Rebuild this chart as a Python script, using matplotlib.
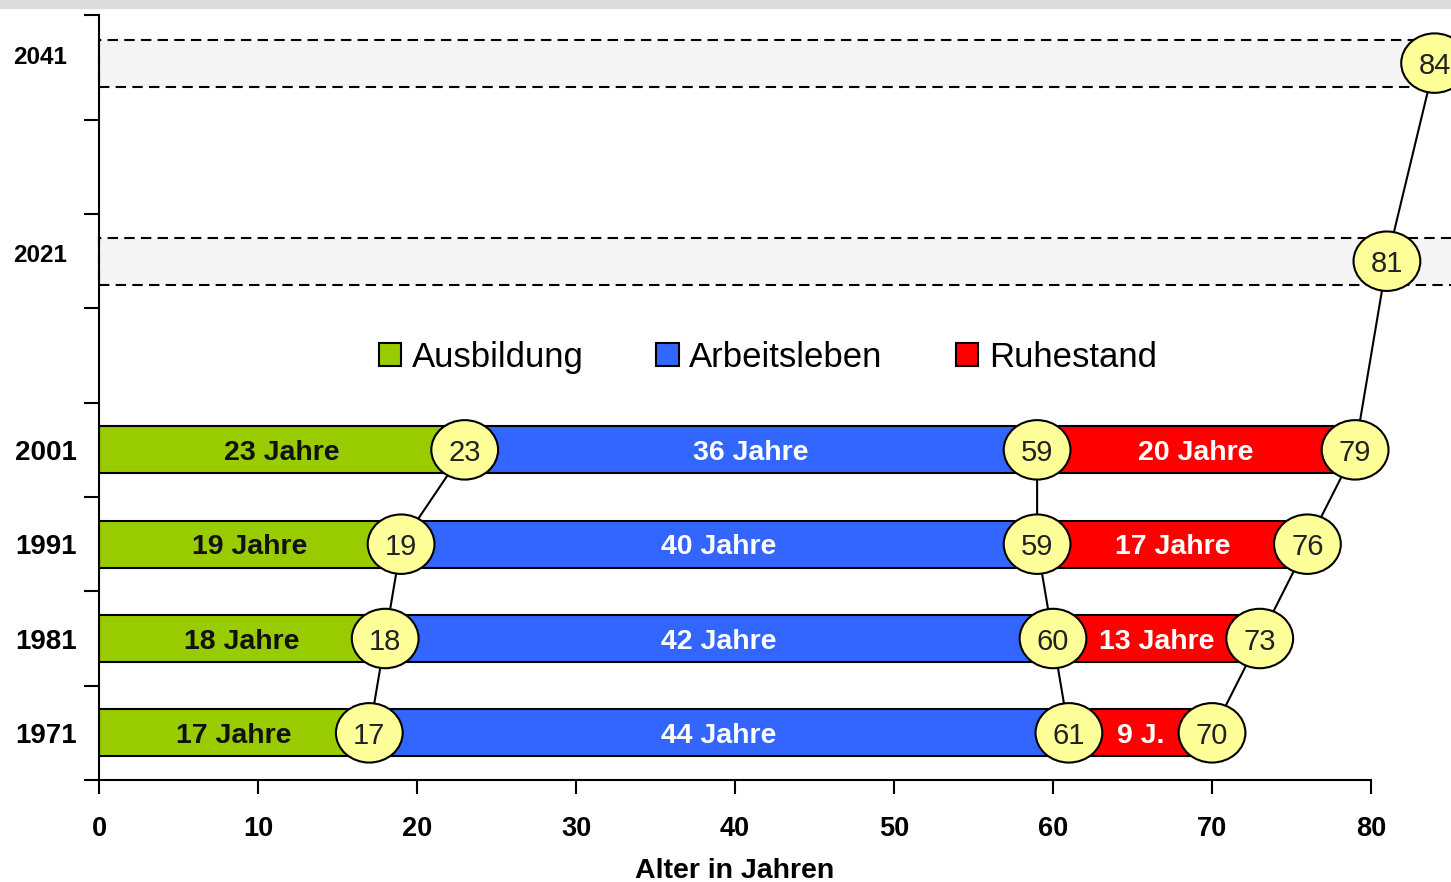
import matplotlib.pyplot as plt
import matplotlib.transforms as mtransforms
from matplotlib.patches import Rectangle, Ellipse, Patch

# data
years = ["1971", "1981", "1991", "2001"]
ausbildung = [17, 18, 19, 23]
arbeitsleben = [44, 42, 40, 36]
ruhestand = [9, 13, 17, 20]
future_years = ["2021", "2041"]
future_total = [81, 84]
series_names = ["Ausbildung", "Arbeitsleben", "Ruhestand"]
colors = ["#99CC00", "#3366FF", "#FF0000"]
xticks = [0, 10, 20, 30, 40, 50, 60, 70, 80]

plt.rcParams["font.family"] = ["Liberation Sans", "DejaVu Sans"]

fig = plt.figure(figsize=(14.51, 8.82), dpi=100)
fig.patches.append(Rectangle((0, 1 - 8 / 882), 1, 8 / 882, transform=fig.transFigure,
                             color="#dcdcdc", zorder=0))
ax = fig.add_axes([99 / 1451, 102 / 882, 1 - 99 / 1451, 765 / 882])

y_hist = [0, 1, 2, 3]
y_fut = [5, 7.1]

# bars
left = [0] * len(years)
for vals, c in zip([ausbildung, arbeitsleben, ruhestand], colors):
    ax.barh(y_hist, vals, left=left, height=0.5, color=c, edgecolor="black",
            linewidth=1.5, zorder=2)
    left = [l + v for l, v in zip(left, vals)]

# future boxes
for y in y_fut:
    ax.add_patch(Rectangle((0, y - 0.25), 95, 0.5, facecolor="#f4f4f4", edgecolor="black",
                           linestyle=(0, (5, 3)), linewidth=1.5, zorder=1, clip_on=False))

# bar texts
for i, y in enumerate(y_hist):
    a = ausbildung[i]
    w = arbeitsleben[i]
    r = ruhestand[i]
    ax.text(a / 2, y, f"{a} Jahre", ha="center", va="center_baseline", fontsize=20.5,
            fontweight="bold", color="#111111", zorder=3)
    ax.text(a + w / 2, y, f"{w} Jahre", ha="center", va="center_baseline", fontsize=20.5,
            fontweight="bold", color="white", zorder=3)
    rl = "9 J." if r < 10 else f"{r} Jahre"
    ax.text(a + w + r / 2, y, rl, ha="center", va="center_baseline", fontsize=20.5,
            fontweight="bold", color="white", zorder=3)

# circle markers and connecting lines
end_green = ausbildung
end_blue = [a + w for a, w in zip(ausbildung, arbeitsleben)]
end_total = [a + w + r for a, w, r in zip(ausbildung, arbeitsleben, ruhestand)]
chains = [
    (end_green, y_hist),
    (end_blue, y_hist),
    (end_total + future_total, y_hist + y_fut),
]
for xs, ys in chains:
    ax.plot(xs, ys, color="black", linewidth=1.5, zorder=4, clip_on=False)
    for x, y in zip(xs, ys):
        ax.add_patch(Ellipse((x, y), 4.2, 0.63, facecolor="#FFFF99", edgecolor="black",
                             linewidth=1.5, zorder=5, clip_on=False))
        ax.text(x, y, str(x), ha="center", va="center_baseline", fontsize=21,
                color="#222222", zorder=6, clip_on=False)

# axes
ax.set_xlim(0, 85.03)
ax.set_ylim(-0.5, 7.61)
for s in ["top", "right"]:
    ax.spines[s].set_visible(False)
ax.spines["bottom"].set_bounds(0, 80)
ax.spines["bottom"].set_linewidth(1.5)
ax.spines["left"].set_linewidth(1.5)
ax.set_xticks(xticks)
ax.set_xticklabels([str(t) for t in xticks], fontsize=19.5, fontweight="bold")
ax.tick_params(axis="x", length=10, width=1.5, pad=16)
ax.set_yticks([-0.5, 0.5, 1.5, 2.5, 3.5, 4.5, 5.5, 6.5, 7.61])
ax.set_yticklabels([])
ax.tick_params(axis="y", length=11, width=1.5)
ax.text(40, -1.46, "Alter in Jahren", ha="center", va="center", fontsize=20.5,
        fontweight="bold")

# year labels
trans = mtransforms.blended_transform_factory(fig.transFigure, ax.transData)
for lab, y in zip(years, y_hist):
    ax.text(15 / 1451, y, lab, transform=trans, ha="left", va="center_baseline", fontsize=20,
            fontweight="bold")
for lab, y in zip(future_years, y_fut):
    ax.text(13 / 1451, y + 0.09, lab, transform=trans, ha="left", va="center_baseline",
            fontsize=17.5, fontweight="bold")

# legend
handles = [Patch(facecolor=c, edgecolor="black", linewidth=1.5) for c in colors]
ax.legend(handles, series_names, loc="center", bbox_to_anchor=(42.05, 3.98),
          bbox_transform=ax.transData, ncol=3, frameon=False, fontsize=25,
          handlelength=0.65, handleheight=0.65, handletextpad=0.3, columnspacing=2.1)

fig.savefig("out.png", dpi=100)
